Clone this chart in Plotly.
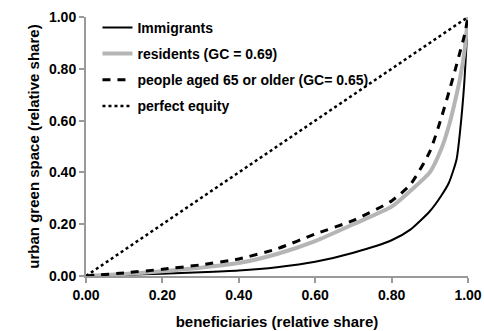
import plotly.graph_objects as go

# Lorenz curves: cumulative share of beneficiaries vs. cumulative share of urban green space
share_x = [0, 0.1, 0.2, 0.3, 0.4, 0.5, 0.6, 0.7, 0.8, 0.85, 0.9, 0.93, 0.95, 0.97, 0.98, 0.99, 1.0]
immigrants = [0, 0.004, 0.009, 0.014, 0.021, 0.034, 0.055, 0.09, 0.138, 0.18, 0.25, 0.31, 0.36, 0.45, 0.57, 0.74, 1.0]
residents = [0, 0.008, 0.018, 0.032, 0.05, 0.085, 0.135, 0.2, 0.268, 0.33, 0.40, 0.49, 0.58, 0.70, 0.77, 0.86, 1.0]
elderly = [0, 0.012, 0.026, 0.043, 0.066, 0.105, 0.162, 0.215, 0.29, 0.355, 0.48, 0.61, 0.71, 0.815, 0.87, 0.925, 1.0]
equity_x = [0, 1]
equity_y = [0, 1]

tick_vals = [0, 0.2, 0.4, 0.6, 0.8, 1.0]
tick_text = ["0.00", "0.20", "0.40", "0.60", "0.80", "1.00"]

FONT = "Liberation Sans, Arial, sans-serif"
AXIS_GREY = "#9a9a9a"

fig = go.Figure()
fig.add_trace(go.Scatter(x=share_x, y=immigrants, mode="lines", name="Immigrants",
                         legendgroup="a", line=dict(color="black", width=2, shape="spline", smoothing=0.6)))
fig.add_trace(go.Scatter(x=share_x, y=residents, mode="lines", name="residents (GC = 0.69)",
                         legendgroup="b", line=dict(color="#b5b5b5", width=4, shape="spline", smoothing=0.6)))
fig.add_trace(go.Scatter(x=share_x, y=elderly, mode="lines", name="people aged 65 or older (GC= 0.65)",
                         legendgroup="c", line=dict(color="black", width=3, dash="8px,7px",
                                                    shape="spline", smoothing=0.6)))
fig.add_trace(go.Scatter(x=equity_x, y=equity_y, mode="lines", name="perfect equity",
                         legendgroup="d", line=dict(color="black", width=2.5, dash="dot")))

axis_common = dict(
    range=[0, 1], tickvals=tick_vals, ticktext=tick_text, automargin=False,
    showgrid=False, zeroline=False, showline=True, linecolor=AXIS_GREY, linewidth=2,
    ticks="outside", ticklen=5, tickwidth=1.5, tickcolor=AXIS_GREY,
    tickfont=dict(family=FONT, size=14, color="black", weight="bold"),
)

fig.update_layout(
    width=484, height=331,
    margin=dict(l=86, r=16, t=15, b=55),
    paper_bgcolor="white", plot_bgcolor="white",
    font=dict(family=FONT, color="black"),
    xaxis=dict(**axis_common,
               title=dict(text="beneficiaries (relative share)",
                          font=dict(family=FONT, size=15, weight="bold"))),
    yaxis=dict(**axis_common,
               title=dict(text="urban green space (relative share)", standoff=6,
                          font=dict(family=FONT, size=15, weight="bold"))),
    legend=dict(x=0.03, y=1.02, xanchor="left", yanchor="top",
                bgcolor="rgba(0,0,0,0)", tracegroupgap=5,
                font=dict(family=FONT, size=14, weight="bold")),
    showlegend=True,
)

fig.write_html("out.html")
